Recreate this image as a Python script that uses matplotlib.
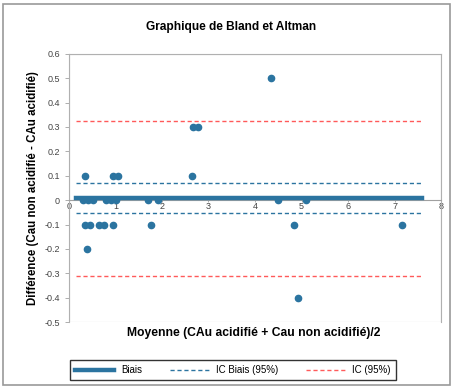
import matplotlib
matplotlib.use("Agg")
import matplotlib.pyplot as plt
from matplotlib.patches import Rectangle

plt.rcParams['font.family'] = ['Liberation Sans', 'DejaVu Sans']

# mean of the two measurements / difference
moyenne = [0.34, 0.95, 1.05, 2.65,
           0.30, 0.41, 0.52, 0.80, 0.90, 1.01, 1.70, 1.91, 4.49, 5.09,
           0.34, 0.45, 0.65, 0.75, 0.95, 1.76, 4.84, 7.16,
           0.39, 2.67, 2.77, 4.34, 4.92]
difference = [0.1, 0.1, 0.1, 0.1,
              0, 0, 0, 0, 0, 0, 0, 0, 0, 0,
              -0.1, -0.1, -0.1, -0.1, -0.1, -0.1, -0.1, -0.1,
              -0.2, 0.3, 0.3, 0.5, -0.4]

x_range = [0.15, 7.58]
biais = 0.008
ic_biais = [0.071, -0.053]
ic = [0.326, -0.311]

blue = '#2b74a0'
red = '#ff5a5a'

fig = plt.figure(figsize=(4.53, 3.9), dpi=100)
ax = fig.add_axes([0.152, 0.174, 0.822, 0.688])

ax.plot(x_range, [biais, biais], color=blue, lw=3.2, zorder=3)
for v in ic_biais:
    ax.plot(x_range, [v, v], color=blue, lw=1.0, ls=(0, (3, 2)), zorder=2)
for v in ic:
    ax.plot(x_range, [v, v], color=red, lw=1.0, ls=(0, (3, 2)), zorder=2)
ax.plot(moyenne, difference, 'o', color=blue, ms=4.5, zorder=4)

ax.set_xlim(0, 8)
ax.set_ylim(-0.5, 0.6)
ax.set_yticks([-0.5, -0.4, -0.3, -0.2, -0.1, 0, 0.1, 0.2, 0.3, 0.4, 0.5, 0.6])
ax.set_yticklabels(['-0.5', '-0.4', '-0.3', '-0.2', '-0.1', '0', '0.1', '0.2',
                    '0.3', '0.4', '0.5', '0.6'])
ax.set_xticks(range(9))

for s in ax.spines.values():
    s.set_color('#b0b0b0')
ax.spines['bottom'].set_position(('data', 0))
ax.spines['bottom'].set_color('#a0a0a0')
# frame of the plot area
ax.add_patch(Rectangle((0, 0), 1, 1, transform=ax.transAxes, fill=False,
                       ec='#b8b8b8', lw=0.8, zorder=0))
ax.tick_params(axis='y', labelsize=6.5, colors='#444444', length=3, width=0.6,
               direction='out', color='#a0a0a0')
ax.tick_params(axis='x', labelsize=6.5, colors='#444444', length=3, width=0.6,
               direction='inout', color='#a0a0a0', pad=0)

fig.text(0.56, 1 - 333 / 390, 'Moyenne (CAu acidifié + Cau non acidifié)/2',
         ha='center', va='center', fontsize=8.7, fontweight='bold')
ax.set_ylabel('Différence (Cau non acidifié - CAu acidifié)', fontsize=8.3,
              fontweight='bold', labelpad=4)
fig.text(0.511, 1 - 27 / 390, 'Graphique de Bland et Altman', ha='center',
         va='center', fontsize=8.6, fontweight='bold')

h1, = ax.plot([], [], color=blue, lw=3.2)
h2, = ax.plot([], [], color=blue, lw=1.0, ls=(0, (3, 2)))
h3, = ax.plot([], [], color=red, lw=1.0, ls=(0, (3, 2)))
leg = fig.legend([h1, h2, h3], ['Biais', 'IC Biais (95%)', 'IC (95%)'],
                 loc='center', bbox_to_anchor=(0.514, 1 - 370 / 390), ncol=3,
                 fontsize=7, frameon=True, fancybox=False, handlelength=4,
                 columnspacing=2.8, borderpad=0.5)
leg.get_frame().set_edgecolor('black')
leg.get_frame().set_linewidth(1.0)

fig.add_artist(Rectangle((0.007, 0.012), 0.986, 0.978, transform=fig.transFigure,
                         fill=False, ec='#999999', lw=1.2))

fig.savefig('out.png', dpi=100)
